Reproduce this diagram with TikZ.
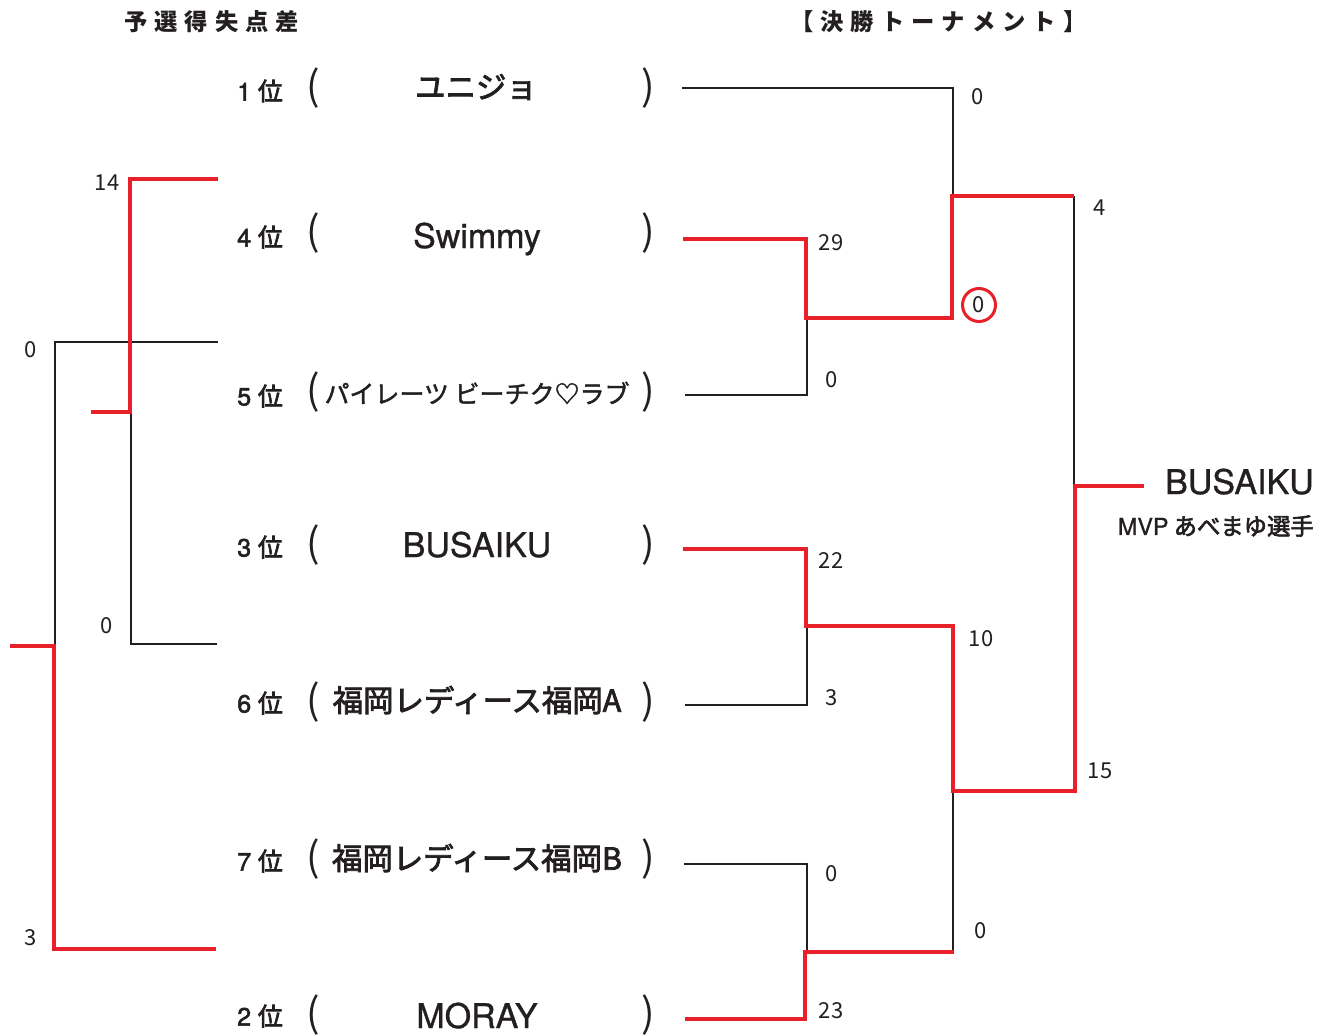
\documentclass[tikz,border=0pt]{standalone}
\usepackage{fontspec}
\setmainfont{Noto Sans CJK JP}
\newfontfamily\jp{Noto Sans CJK JP}
\newfontfamily\jpm{Noto Sans CJK JP}[FakeBold=2.6]
\newfontfamily\jpl{Noto Sans CJK JP}[FakeBold=1.6]
\newfontfamily\heros{TeX Gyre Heros}[FakeBold=0.9]
\newfontfamily\herosb{TeX Gyre Heros}[FakeBold=2]
\newcommand\fsz[1]{\fontsize{#1}{#1}\selectfont}
\definecolor{ink}{HTML}{231F20}
\definecolor{rd}{HTML}{E8202A}
\tikzset{
  blk/.style={draw=ink, line width=1.5pt},
  win/.style={draw=rd, line width=3pt},
  num/.style={inner sep=0pt, text=ink, font=\jp\fsz{16.5pt}},
  rank/.style={inner sep=0pt, text=ink, anchor=west, font=\jpm\fsz{18.75pt}},
  par/.style={inner sep=0pt, text=ink, font=\jp\fsz{30pt}},
  jname/.style={inner sep=0pt, text=ink, font=\jpm\fsz{22.8pt}},
  jlight/.style={inner sep=0pt, text=ink, font=\jpl\fsz{18.75pt}},
  lname/.style={inner sep=0pt, text=ink, anchor=base, font=\heros\fsz{25.5pt}},
  head/.style={inner sep=0pt, text=ink, anchor=west, font=\jp\bfseries\fsz{17.5pt}\addfontfeature{LetterSpace=30}},
}
\begin{document}
\begin{tikzpicture}[x=0.75pt,y=-0.75pt]
\useasboundingbox (0,0) rectangle (1331,1035);
\fill[white] (0,0) rectangle (1331,1035);

% headers
\node[head] (h1) at (124,22) {予選得失点差};
\node[head] (h2) at (790,22) {【決勝トーナメント】};

% ranks
\node[rank] (k1) at (237,91) {{\herosb 1}\hspace{5pt}位};
\node[rank] (k2) at (237,237) {{\herosb 4}\hspace{5pt}位};
\node[rank] (k3) at (237,396) {{\herosb 5}\hspace{5pt}位};
\node[rank] (k4) at (237,547) {{\herosb 3}\hspace{5pt}位};
\node[rank] (k5) at (237,703) {{\herosb 6}\hspace{5pt}位};
\node[rank] (k6) at (237,861) {{\herosb 7}\hspace{5pt}位};
\node[rank] (k7) at (237,1016) {{\herosb 2}\hspace{5pt}位};

% parentheses
\foreach \i/\y in {1/88,2/233,3/392,4/545,5/702,6/859,7/1015}{
  \node[par] (pl\i) at (313,\y) {(};
  \node[par] (pr\i) at (648,\y) {)};
}

% team names
\node[jname] (t1) at (476,87) {ユニジョ};
\node[lname] (t2) at (477,248) {Swimmy};
\node[jlight] (t3) at (477,393) {パイレーツ ビーチク♡ラブ};
\node[lname] (t4) at (477,557) {BUSAIKU};
\node[jname] (t5) at (477,700) {福岡レディース福岡A};
\node[jname] (t6) at (477,858) {福岡レディース福岡B};
\node[lname] (t7) at (477,1028) {MORAY};

% ---- left bracket (black first)
\coordinate (a1) at (218,342); \coordinate (a2) at (55,342); \coordinate (a3) at (55,646);
\draw[blk] (a1) -- (a2) -- (a3);
\coordinate (b1) at (131,412); \coordinate (b2) at (131,644); \coordinate (b3) at (217,644);
\draw[blk] (b1) -- (b2) -- (b3);
\coordinate (c1) at (218,179); \coordinate (c2) at (130,179); \coordinate (c3) at (130,412); \coordinate (c4) at (91,412);
\draw[win] (c1) -- (c2) -- (c3) -- (c4);
\coordinate (d1) at (10,646); \coordinate (d2) at (54,646); \coordinate (d3) at (54,949); \coordinate (d4) at (216,949);
\draw[win] (d1) -- (d2) -- (d3) -- (d4);

\node[num] (n14) at (107,183) {14};
\node[num] (nl0a) at (31,350) {0};
\node[num] (nl0b) at (107,626) {0};
\node[num] (nl3) at (31,938) {3};

% ---- right bracket (black)
\coordinate (e1) at (682,88); \coordinate (e2) at (953,88); \coordinate (e3) at (953,196);
\draw[blk] (e1) -- (e2) -- (e3);
\coordinate (f1) at (685,395); \coordinate (f2) at (807,395); \coordinate (f3) at (807,318);
\draw[blk] (f1) -- (f2) -- (f3);
\coordinate (g1) at (1074,196); \coordinate (g2) at (1074,486);
\draw[blk] (g1) -- (g2);
\coordinate (h1a) at (685,705); \coordinate (h2a) at (807,705); \coordinate (h3a) at (807,626);
\draw[blk] (h1a) -- (h2a) -- (h3a);
\coordinate (i1) at (953,791); \coordinate (i2) at (953,952);
\draw[blk] (i1) -- (i2);
\coordinate (j1) at (684,864); \coordinate (j2) at (807,864); \coordinate (j3) at (807,952);
\draw[blk] (j1) -- (j2) -- (j3);

% ---- right bracket (red)
\coordinate (r1) at (683,239); \coordinate (r2) at (806,239); \coordinate (r3) at (806,318);
\coordinate (r4) at (952,318); \coordinate (r5) at (952,196); \coordinate (r6) at (1074,196);
\draw[win] (r1) -- (r2) -- (r3) -- (r4) -- (r5) -- (r6);
\coordinate (s1) at (1144,486); \coordinate (s2) at (1075,486); \coordinate (s3) at (1075,791);
\coordinate (s4) at (953,791); \coordinate (s5) at (953,626); \coordinate (s6) at (806,626);
\coordinate (s7) at (806,549); \coordinate (s8) at (683,549);
\draw[win] (s1) -- (s2) -- (s3) -- (s4) -- (s5) -- (s6) -- (s7) -- (s8);
\coordinate (u1) at (954,952); \coordinate (u2) at (805,952); \coordinate (u3) at (805,1019); \coordinate (u4) at (685,1019);
\draw[win] (u1) -- (u2) -- (u3) -- (u4);

% scores
\node[num] (m1) at (978,97) {0};
\node[num] (m2) at (831,243) {29};
\node[num, circle, draw=rd, line width=2.25pt, minimum size=24.75pt, inner sep=0pt] (m3) at (979,305) {0};
\node[num] (m4) at (832,380) {0};
\node[num] (m5) at (1100,208) {4};
\node[num] (m6) at (831,561) {22};
\node[num] (m7) at (981,639) {10};
\node[num] (m8) at (832,698) {3};
\node[num] (m9) at (1100,771) {15};
\node[num] (m10) at (832,874) {0};
\node[num] (m11) at (981,931) {0};
\node[num] (m12) at (831,1011) {23};

% winner
\node[lname, anchor=base east] (w) at (1314,494) {BUSAIKU};
\node[inner sep=0pt, text=ink, anchor=east, font=\jpm\fsz{17.5pt}] (mvp) at (1314,526) {{\heros MVP} あべまゆ選手};
\end{tikzpicture}
\end{document}
